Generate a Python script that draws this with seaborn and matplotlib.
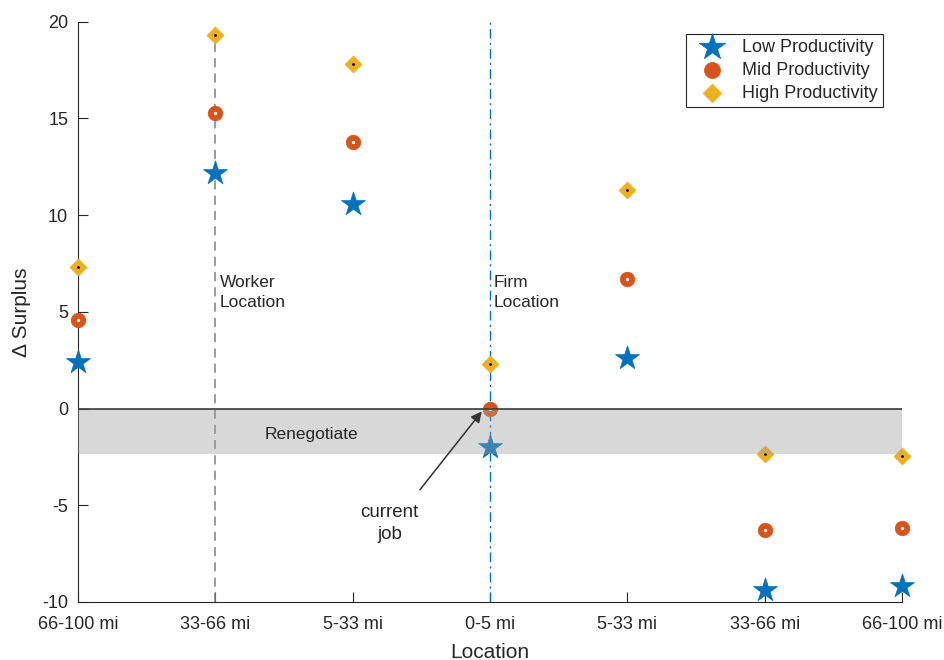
import numpy as np
import pandas as pd
import matplotlib
matplotlib.use('Agg')
import matplotlib.pyplot as plt
import seaborn as sns

# data
locations = ['66-100 mi', '33-66 mi', '5-33 mi', '0-5 mi', '5-33 mi', '33-66 mi', '66-100 mi']
low_prod = [2.4, 12.2, 10.6, -2.0, 2.6, -9.4, -9.2]
mid_prod = [4.6, 15.3, 13.8, 0.0, 6.7, -6.3, -6.2]
high_prod = [7.3, 19.3, 17.8, 2.3, 11.3, -2.35, -2.45]
renegotiate_low = -2.35

sns.set_style('white')
plt.rcParams['font.family'] = ['Liberation Sans', 'DejaVu Sans']
plt.rcParams['axes.unicode_minus'] = False
plt.rcParams['xtick.bottom'] = True
plt.rcParams['ytick.left'] = True

pos = np.arange(1, len(locations) + 1)
df = pd.DataFrame({'pos': pos, 'low': low_prod, 'mid': mid_prod, 'high': high_prod})

fig = plt.figure(figsize=(9.45, 6.6), dpi=100)
ax = fig.add_axes([0.0825, 0.088, 0.872, 0.879])

# reference lines
ax.axvline(2, color='#808080', ls=(0, (6, 4)), lw=1.1, zorder=1)
ax.axvline(4, color='#0072BD', ls=(0, (7, 3, 1.5, 3)), lw=1.0, zorder=1)

blue, red, yellow = '#0072BD', '#D95319', '#EDB120'
sns.scatterplot(data=df, x='pos', y='low', marker='*', s=330, color=blue,
                edgecolor=blue, linewidth=0.5, label='Low Productivity', ax=ax,
                zorder=3, clip_on=False)
sns.scatterplot(data=df, x='pos', y='mid', marker='o', s=110, color=red,
                edgecolor=red, linewidth=0.5, label='Mid Productivity', ax=ax,
                zorder=3, clip_on=False)
sns.scatterplot(data=df, x='pos', y='high', marker='D', s=75, color=yellow,
                edgecolor=yellow, linewidth=0.5, label='High Productivity', ax=ax,
                zorder=3, clip_on=False)
# small center dots like matlab
ax.scatter(df['pos'], df['mid'], s=2, color='white', zorder=4, clip_on=False)
ax.scatter(df['pos'], df['high'], s=1, color='black', zorder=4, clip_on=False)

# renegotiation band over the markers
ax.axhspan(renegotiate_low, 0, xmin=0, xmax=1, facecolor='#9f9f9f', alpha=0.4,
           edgecolor='none', zorder=5)
ax.plot([1, 7], [0, 0], color='#3a3a3a', lw=1.2, zorder=6)

ax.text(2.03, 6.0, 'Worker\nLocation', fontsize=12.5, va='center', ha='left',
        linespacing=1.45, zorder=8)
ax.text(4.03, 6.0, 'Firm\nLocation', fontsize=12.5, va='center', ha='left',
        linespacing=1.45, zorder=8)
ax.text(2.36, -1.35, 'Renegotiate', fontsize=12.5, va='center', ha='left', zorder=8)
ax.text(3.27, -5.95, 'current\njob', fontsize=13.5, va='center', ha='center',
        linespacing=1.4, zorder=8)
ax.annotate('', xy=(3.94, -0.15), xytext=(3.49, -4.2),
            arrowprops=dict(arrowstyle='-|>', color='#333333', lw=1.1,
                            mutation_scale=16, shrinkA=0, shrinkB=0), zorder=7)

ax.set_xlim(1, 7)
ax.set_ylim(-10, 20)
ax.set_xticks(pos)
ax.set_xticklabels(locations)
ax.set_yticks([-10, -5, 0, 5, 10, 15, 20])
ax.tick_params(direction='in', length=7, width=0.8, labelsize=13, colors='#262626')
ax.tick_params(axis='y', pad=7)
ax.tick_params(axis='x', pad=10)
ax.set_xlabel('Location', fontsize=15, color='#262626', labelpad=7)
ax.set_ylabel('\u0394 Surplus', fontsize=15, color='#262626', labelpad=8)
for s in ['top', 'right']:
    ax.spines[s].set_visible(False)
for s in ['left', 'bottom']:
    ax.spines[s].set_color('#262626')
    ax.spines[s].set_linewidth(0.8)

leg = ax.legend(loc='upper right', bbox_to_anchor=(0.9875, 0.995), fontsize=13,
                frameon=True, fancybox=False, edgecolor='#262626', framealpha=1,
                borderpad=0.3, labelspacing=0.33, handletextpad=0.5,
                handlelength=2.3, markerscale=1.1)
leg.get_frame().set_linewidth(0.8)

fig.savefig('out.png', dpi=100)
